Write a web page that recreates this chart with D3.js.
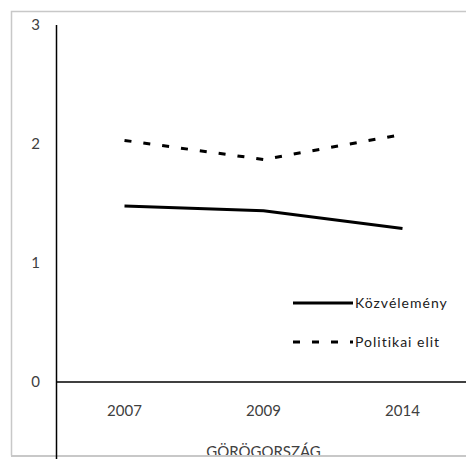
<!DOCTYPE html>
<html>
<head>
<meta charset="utf-8">
<script src="https://cdn.jsdelivr.net/npm/d3@7"></script>
<style>
  body { margin: 0; background: #fff; }
  text { font-family: "Lato", "Open Sans", sans-serif; }
</style>
</head>
<body>
<script>
var width = 466;
var height = 459;

var years = ["2007", "2009", "2014"];
var kozvelemeny = [1.48, 1.44, 1.29];
var politikaiElit = [2.03, 1.87, 2.08];
var yTicks = [0, 1, 2, 3];
var seriesNames = ["Közvélemény", "Politikai elit"];
var groupLabel = "GÖRÖGORSZÁG";

var tickColor = "#404040";

var svg = d3.select("body").append("svg")
  .attr("width", width)
  .attr("height", height);

// outer frame
svg.append("rect")
  .attr("x", 11.5)
  .attr("y", 11.5)
  .attr("width", 470)
  .attr("height", 444.5)
  .attr("fill", "none")
  .attr("stroke", "#c8c8c8")
  .attr("stroke-width", 1.5);

var x = d3.scaleBand()
  .domain(years)
  .range([55, 472]);

var y = d3.scaleLinear()
  .domain([0, 3])
  .range([382, 25]);

// y axis line
svg.append("line")
  .attr("x1", 56.5).attr("x2", 56.5)
  .attr("y1", y(3)).attr("y2", height)
  .attr("stroke", "#000")
  .attr("stroke-width", 1.5);

// zero line
svg.append("line")
  .attr("x1", 56).attr("x2", width)
  .attr("y1", y(0)).attr("y2", y(0))
  .attr("stroke", "#000")
  .attr("stroke-width", 1.5);

svg.selectAll("text.ytick")
  .data(yTicks)
  .enter().append("text")
  .classed("ytick", true)
  .attr("x", 40)
  .attr("y", function(d) { return y(d); })
  .attr("dy", "0.35em")
  .attr("text-anchor", "end")
  .attr("font-size", 15)
  .attr("fill", tickColor)
  .text(function(d) { return d; });

svg.selectAll("text.xtick")
  .data(years)
  .enter().append("text")
  .classed("xtick", true)
  .attr("x", function(d) { return x(d) + x.bandwidth() / 2; })
  .attr("y", 411)
  .attr("dy", "0.35em")
  .attr("text-anchor", "middle")
  .attr("font-size", 15)
  .attr("fill", tickColor)
  .text(function(d) { return d; });

svg.append("text")
  .attr("x", x("2009") + x.bandwidth() / 2)
  .attr("y", 452)
  .attr("dy", "0.35em")
  .attr("text-anchor", "middle")
  .attr("font-size", 15)
  .attr("fill", tickColor)
  .text(groupLabel);

// cover bottom of group label with frame again
svg.append("rect")
  .attr("x", 0).attr("y", 455.5)
  .attr("width", width).attr("height", 4)
  .attr("fill", "#fff");
svg.append("line")
  .attr("x1", 11).attr("x2", width)
  .attr("y1", 456).attr("y2", 456)
  .attr("stroke", "#c8c8c8")
  .attr("stroke-width", 2);
svg.append("line")
  .attr("x1", 56.5).attr("x2", 56.5)
  .attr("y1", 455).attr("y2", height)
  .attr("stroke", "#000")
  .attr("stroke-width", 1.5);

var line = d3.line()
  .x(function(d, i) { return x(years[i]) + x.bandwidth() / 2; })
  .y(function(d) { return y(d); });

var series = [
  { values: kozvelemeny, dash: null },
  { values: politikaiElit, dash: "7,12" }
];

svg.selectAll("path.series")
  .data(series)
  .enter().append("path")
  .classed("series", true)
  .attr("d", function(s) { return line(s.values); })
  .attr("fill", "none")
  .attr("stroke", "#000")
  .attr("stroke-width", 3)
  .attr("stroke-dasharray", function(s) { return s.dash; });

// legend
var legend = svg.selectAll("g.legend")
  .data(series)
  .enter().append("g")
  .classed("legend", true)
  .attr("transform", function(s, i) { return "translate(293," + (303 + i * 39) + ")"; });

legend.append("line")
  .attr("x1", 0).attr("x2", 60)
  .attr("y1", 0).attr("y2", 0)
  .attr("stroke", "#000")
  .attr("stroke-width", 3)
  .attr("stroke-dasharray", function(s) { return s.dash; });

legend.append("text")
  .attr("x", 62)
  .attr("y", 0)
  .attr("dy", "0.35em")
  .attr("font-size", 14)
  .attr("letter-spacing", 1)
  .attr("fill", "#202020")
  .text(function(s, i) { return seriesNames[i]; });
</script>
</body>
</html>
